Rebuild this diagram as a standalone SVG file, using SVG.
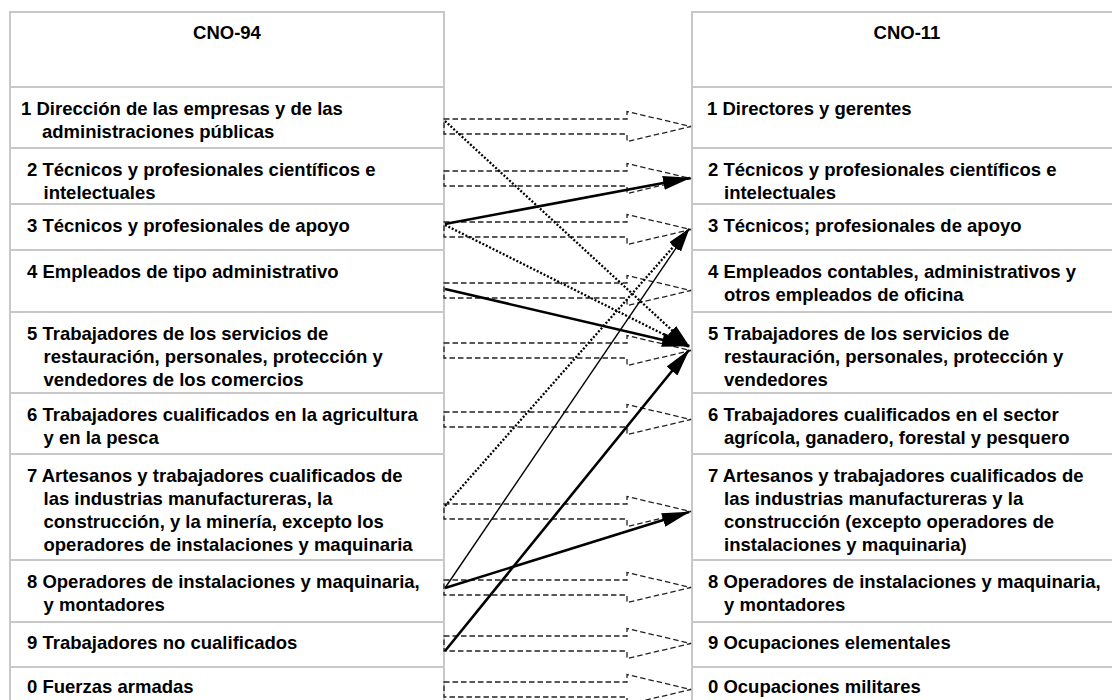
<svg xmlns="http://www.w3.org/2000/svg" width="1112" height="700" viewBox="0 0 1112 700">
<style>
.cell{fill:#fff;stroke:#c8c8c8;stroke-width:2}
.t{font-family:"Liberation Sans",Arial,sans-serif;font-weight:bold;font-size:18.5px;fill:#000}
.h{text-anchor:middle}
.blk{fill:none;stroke:#222;stroke-width:1.3;stroke-dasharray:5.5 3}
.thick{fill:none;stroke:#000;stroke-width:2.6;marker-end:url(#big)}
.thin{fill:none;stroke:#000;stroke-width:1.4;marker-end:url(#mid)}
.dot{fill:none;stroke:#000;stroke-width:2.3;stroke-dasharray:2 1.8;marker-end:url(#mid)}
</style>
<defs>
<marker id="big" markerUnits="userSpaceOnUse" markerWidth="28" markerHeight="14" refX="27" refY="7" orient="auto"><path d="M0,0 L28,7 L0,14 Z" fill="#000"/></marker>
<marker id="mid" markerUnits="userSpaceOnUse" markerWidth="24" markerHeight="12" refX="23" refY="6" orient="auto"><path d="M0,0 L24,6 L0,12 Z" fill="#000"/></marker>
</defs>
<rect width="1112" height="700" fill="#fff"/>

<g id="cno94">
<g id="l-h"><rect class="cell" x="10" y="12" width="434" height="75"/><text class="t h" x="227" y="39">CNO-94</text></g>
<g id="l-1"><rect class="cell" x="10" y="87" width="434" height="61"/><text class="t" x="21" y="114.5">1 Dirección de las empresas y de las</text><text class="t" x="42" y="137.5">administraciones públicas</text></g>
<g id="l-2"><rect class="cell" x="10" y="148" width="434" height="56"/><text class="t" x="27" y="175.5">2 Técnicos y profesionales científicos e</text><text class="t" x="43.5" y="198.5">intelectuales</text></g>
<g id="l-3"><rect class="cell" x="10" y="204" width="434" height="46"/><text class="t" x="27" y="231.5">3 Técnicos y profesionales de apoyo</text></g>
<g id="l-4"><rect class="cell" x="10" y="250" width="434" height="62"/><text class="t" x="27" y="277.5">4 Empleados de tipo administrativo</text></g>
<g id="l-5"><rect class="cell" x="10" y="312" width="434" height="81"/><text class="t" x="27" y="339.5">5 Trabajadores de los servicios de</text><text class="t" x="43.5" y="362.5">restauración, personales, protección y</text><text class="t" x="43.5" y="385.5">vendedores de los comercios</text></g>
<g id="l-6"><rect class="cell" x="10" y="393" width="434" height="61"/><text class="t" x="27" y="420.5">6 Trabajadores cualificados en la agricultura</text><text class="t" x="43.5" y="443.5">y en la pesca</text></g>
<g id="l-7"><rect class="cell" x="10" y="454" width="434" height="106"/><text class="t" x="27" y="481.5">7 Artesanos y trabajadores cualificados de</text><text class="t" x="43.5" y="504.5">las industrias manufactureras, la</text><text class="t" x="43.5" y="527.5">construcción, y la minería, excepto los</text><text class="t" x="43.5" y="550.5">operadores de instalaciones y maquinaria</text></g>
<g id="l-8"><rect class="cell" x="10" y="560" width="434" height="62"/><text class="t" x="27" y="587.5">8 Operadores de instalaciones y maquinaria,</text><text class="t" x="43.5" y="610.5">y montadores</text></g>
<g id="l-9"><rect class="cell" x="10" y="622" width="434" height="45"/><text class="t" x="27" y="648.5">9 Trabajadores no cualificados</text></g>
<g id="l-0"><rect class="cell" x="10" y="667" width="434" height="45"/><text class="t" x="27" y="693">0 Fuerzas armadas</text></g>
</g>

<g id="cno11">
<g id="r-h"><rect class="cell" x="692" y="12" width="430" height="75"/><text class="t h" x="907" y="39">CNO-11</text></g>
<g id="r-1"><rect class="cell" x="692" y="87" width="430" height="61"/><text class="t" x="707" y="114.5">1 Directores y gerentes</text></g>
<g id="r-2"><rect class="cell" x="692" y="148" width="430" height="56"/><text class="t" x="708" y="175.5">2 Técnicos y profesionales científicos e</text><text class="t" x="724" y="198.5">intelectuales</text></g>
<g id="r-3"><rect class="cell" x="692" y="204" width="430" height="46"/><text class="t" x="708" y="231.5">3 Técnicos; profesionales de apoyo</text></g>
<g id="r-4"><rect class="cell" x="692" y="250" width="430" height="62"/><text class="t" x="708" y="277.5">4 Empleados contables, administrativos y</text><text class="t" x="724" y="300.5">otros empleados de oficina</text></g>
<g id="r-5"><rect class="cell" x="692" y="312" width="430" height="81"/><text class="t" x="708" y="339.5">5 Trabajadores de los servicios de</text><text class="t" x="724" y="362.5">restauración, personales, protección y</text><text class="t" x="724" y="385.5">vendedores</text></g>
<g id="r-6"><rect class="cell" x="692" y="393" width="430" height="61"/><text class="t" x="708" y="420.5">6 Trabajadores cualificados en el sector</text><text class="t" x="724" y="443.5">agrícola, ganadero, forestal y pesquero</text></g>
<g id="r-7"><rect class="cell" x="692" y="454" width="430" height="106"/><text class="t" x="708" y="481.5">7 Artesanos y trabajadores cualificados de</text><text class="t" x="724" y="504.5">las industrias manufactureras y la</text><text class="t" x="724" y="527.5">construcción (excepto operadores de</text><text class="t" x="724" y="550.5">instalaciones y maquinaria)</text></g>
<g id="r-8"><rect class="cell" x="692" y="560" width="430" height="62"/><text class="t" x="708" y="587.5">8 Operadores de instalaciones y maquinaria,</text><text class="t" x="724" y="610.5">y montadores</text></g>
<g id="r-9"><rect class="cell" x="692" y="622" width="430" height="45"/><text class="t" x="708" y="648.5">9 Ocupaciones elementales</text></g>
<g id="r-0"><rect class="cell" x="692" y="667" width="430" height="45"/><text class="t" x="708" y="693">0 Ocupaciones militares</text></g>
</g>

<g id="connectors">
<path class="blk" d="M444,119 H627 V111.5 L691,126.5 L627,141.5 V134 H444 Z"/>
<path class="blk" d="M444,171 H627 V163.5 L691,178.5 L627,193.5 V186 H444 Z"/>
<path class="blk" d="M444,222 H627 V214.5 L691,229.5 L627,244.5 V237 H444 Z"/>
<path class="blk" d="M444,283 H627 V275.5 L691,290.5 L627,305.5 V298 H444 Z"/>
<path class="blk" d="M444,343 H627 V335.5 L691,350.5 L627,365.5 V358 H444 Z"/>
<path class="blk" d="M444,412 H627 V404.5 L691,419.5 L627,434.5 V427 H444 Z"/>
<path class="blk" d="M444,504 H627 V496.5 L691,511.5 L627,526.5 V519 H444 Z"/>
<path class="blk" d="M444,580 H627 V572.5 L691,587.5 L627,602.5 V595 H444 Z"/>
<path class="blk" d="M444,636 H627 V628.5 L691,643.5 L627,658.5 V651 H444 Z"/>
<path class="blk" d="M444,682 H627 V674.5 L691,689.5 L627,704.5 V697 H444 Z"/>
<line class="thick" x1="445" y1="224" x2="690" y2="178"/>
<line class="thick" x1="445" y1="289" x2="689" y2="346"/>
<line class="thick" x1="445" y1="651" x2="689" y2="350"/>
<line class="thick" x1="445" y1="588" x2="689" y2="512"/>
<line class="thin" x1="445" y1="588" x2="689" y2="229"/>
<line class="dot" x1="445" y1="506" x2="689" y2="229"/>
<line class="dot" x1="445" y1="121" x2="689" y2="346"/>
<line class="dot" x1="445" y1="225" x2="689" y2="347"/>
</g>
</svg>
